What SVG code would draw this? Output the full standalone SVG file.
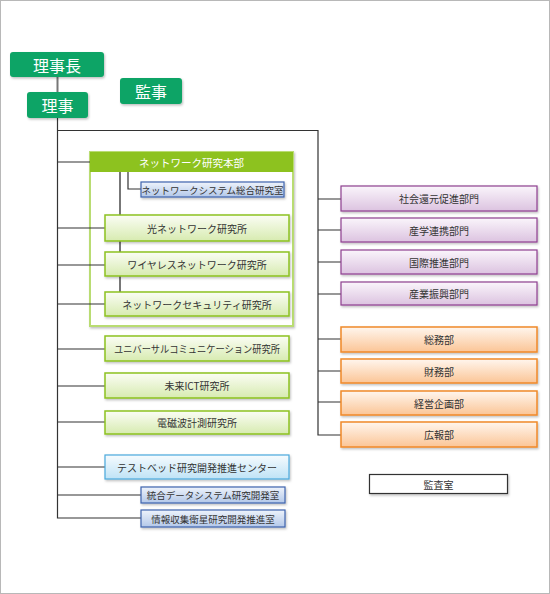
<svg xmlns="http://www.w3.org/2000/svg" width="550" height="594" viewBox="0 0 550 594">
<defs>
<linearGradient id="gG" x1="0" y1="0" x2="0" y2="1"><stop offset="0" stop-color="#fbfdf5"/><stop offset="1" stop-color="#d7ebb0"/></linearGradient>
<linearGradient id="gP" x1="0" y1="0" x2="0" y2="1"><stop offset="0" stop-color="#faf5fb"/><stop offset="1" stop-color="#dcc3e0"/></linearGradient>
<linearGradient id="gO" x1="0" y1="0" x2="0" y2="1"><stop offset="0" stop-color="#fff6ee"/><stop offset="1" stop-color="#fbc596"/></linearGradient>
<linearGradient id="gB" x1="0" y1="0" x2="0" y2="1"><stop offset="0" stop-color="#eef3fb"/><stop offset="1" stop-color="#b3c8e9"/></linearGradient>
<linearGradient id="gC" x1="0" y1="0" x2="0" y2="1"><stop offset="0" stop-color="#f6fbfe"/><stop offset="1" stop-color="#bfe3f6"/></linearGradient>
<filter id="sh" x="-10%" y="-20%" width="120%" height="150%"><feDropShadow dx="1" dy="1.5" stdDeviation="0.8" flood-color="#000" flood-opacity="0.25"/></filter>
</defs>
<style>
.t{font-family:"Noto Sans CJK JP","Noto Sans",sans-serif;fill:#333;font-size:10px;text-anchor:middle;dominant-baseline:central}
.s{font-size:9.5px}
.w{fill:#fff}
.big{font-size:16px}
.hd{font-size:10.5px}
.top{fill:#0ba466;filter:url(#sh)}
.g{fill:url(#gG);stroke:#8dc21f;stroke-width:1.5;filter:url(#sh)}
.p{fill:url(#gP);stroke:#8e3f8f;stroke-width:1.2;filter:url(#sh)}
.o{fill:url(#gO);stroke:#f0892a;stroke-width:1.5;filter:url(#sh)}
.b{fill:url(#gB);stroke:#3e63ad;stroke-width:1.2;filter:url(#sh)}
.c{fill:url(#gC);stroke:#4aa9dd;stroke-width:1.2;filter:url(#sh)}
.l{stroke:#333;stroke-width:1.2;fill:none}
.lg{stroke:#777;stroke-width:2;fill:none}
</style>
<rect x="0.5" y="0.5" width="549" height="593" fill="#fff" stroke="#b8b8b8"/>
<g id="n-nw-hq">
<rect x="90" y="152" width="203" height="174" fill="#fff" stroke="#b9dc72" stroke-width="2" filter="url(#sh)"/>
<rect x="90" y="152" width="203" height="20" fill="#8dc21f"/>
<text class="t w hd" x="191.5" y="162">ネットワーク研究本部</text>
</g>
<g id="connectors">
<line class="lg" x1="57.5" y1="77" x2="57.5" y2="92"/>
<path class="l" d="M57.5 118 V518 H141 M57.5 130.5 H318 V435 H341"/>
<path class="l" d="M57.5 162 H90 M57.5 228 H105 M57.5 265 H105 M57.5 304 H105 M57.5 349 H105 M57.5 386 H105 M57.5 422 H105 M57.5 467 H105 M57.5 495 H141"/>
<line class="lg" x1="120" y1="172" x2="120" y2="292"/>
<path class="l" d="M128 172 V189 H141"/>
<path class="l" d="M318 199 H341 M318 230 H341 M318 262 H341 M318 294 H341 M318 339 H341 M318 371 H341 M318 402 H341"/>
</g>
<g id="n-rijicho"><rect class="top" x="10" y="52" width="94" height="25" rx="3"/><text class="t w big" x="57" y="64.5">理事長</text></g>
<g id="n-riji"><rect class="top" x="27" y="92" width="61" height="26" rx="3"/><text class="t w big" x="57.5" y="105">理事</text></g>
<g id="n-kanji"><rect class="top" x="120" y="78" width="62" height="26" rx="3"/><text class="t w big" x="151" y="91">監事</text></g>
<g id="n-nwsys"><rect class="b" x="141" y="182" width="143" height="15"/><text class="t s" x="212.5" y="189.5">ネットワークシステム総合研究室</text></g>
<g id="n-hikari"><rect class="g" x="105" y="215" width="184" height="26"/><text class="t" x="197" y="228">光ネットワーク研究所</text></g>
<g id="n-wireless"><rect class="g" x="105" y="252" width="184" height="24"/><text class="t" x="197" y="264">ワイヤレスネットワーク研究所</text></g>
<g id="n-security"><rect class="g" x="105" y="292" width="184" height="24"/><text class="t" x="197" y="304">ネットワークセキュリティ研究所</text></g>
<g id="n-universal"><rect class="g" x="105" y="336" width="184" height="25"/><text class="t" x="197" y="348.5" textLength="166" lengthAdjust="spacingAndGlyphs">ユニバーサルコミュニケーション研究所</text></g>
<g id="n-mirai"><rect class="g" x="105" y="373" width="184" height="25"/><text class="t" x="197" y="385.5">未来ICT研究所</text></g>
<g id="n-denji"><rect class="g" x="105" y="411" width="184" height="23"/><text class="t" x="197" y="422.5">電磁波計測研究所</text></g>
<g id="n-testbed"><rect class="c" x="105" y="455" width="184" height="24"/><text class="t" x="197" y="467">テストベッド研究開発推進センター</text></g>
<g id="n-togo"><rect class="b" x="141" y="487" width="144" height="16"/><text class="t s" x="213" y="495">統合データシステム研究開発室</text></g>
<g id="n-joho"><rect class="b" x="141" y="510" width="144" height="17"/><text class="t s" x="213" y="518.5">情報収集衛星研究開発推進室</text></g>
<g id="n-shakai"><rect class="p" x="341" y="186" width="196" height="25"/><text class="t" x="439" y="198.5">社会還元促進部門</text></g>
<g id="n-sangaku"><rect class="p" x="341" y="218" width="196" height="24"/><text class="t" x="439" y="230">産学連携部門</text></g>
<g id="n-kokusai"><rect class="p" x="341" y="250" width="196" height="24"/><text class="t" x="439" y="262">国際推進部門</text></g>
<g id="n-sangyo"><rect class="p" x="341" y="282" width="196" height="23"/><text class="t" x="439" y="293.5">産業振興部門</text></g>
<g id="n-somu"><rect class="o" x="341" y="327" width="196" height="25"/><text class="t" x="439" y="339.5">総務部</text></g>
<g id="n-zaimu"><rect class="o" x="341" y="359" width="196" height="24"/><text class="t" x="439" y="371">財務部</text></g>
<g id="n-keiei"><rect class="o" x="341" y="391" width="196" height="24"/><text class="t" x="439" y="403">経営企画部</text></g>
<g id="n-koho"><rect class="o" x="341" y="422" width="196" height="25"/><text class="t" x="439" y="434.5">広報部</text></g>
<g id="n-kansa"><rect x="369.5" y="474.5" width="138" height="19" fill="#fff" stroke="#333" stroke-width="1.2" filter="url(#sh)"/><text class="t" x="438.5" y="484">監査室</text></g>
</svg>
